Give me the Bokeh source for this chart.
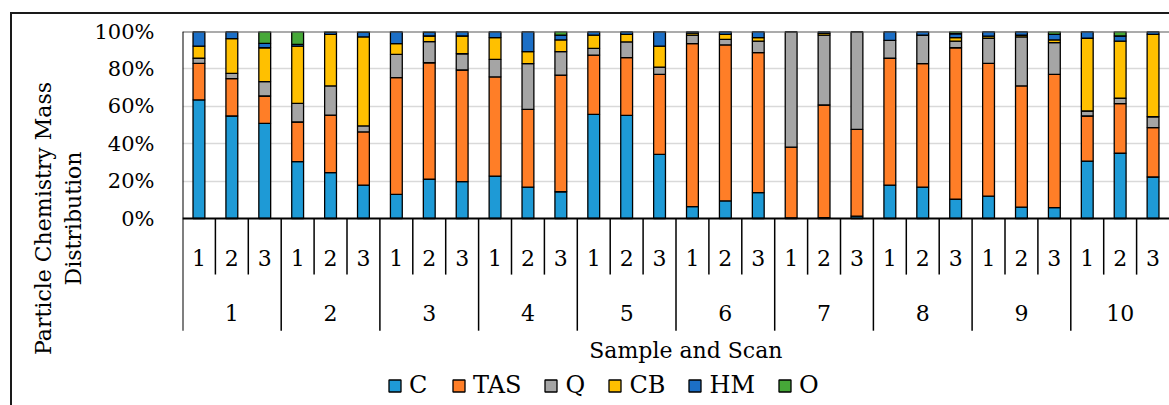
from bokeh.plotting import figure
from bokeh.models import (FactorRange, Range1d, FixedTicker, PrintfTickFormatter,
                          Legend, LegendItem, ColumnDataSource)
from bokeh.core.properties import value
from bokeh.embed import file_html
from bokeh.resources import INLINE

# ---------------- data ----------------
samples = ["1", "2", "3", "4", "5", "6", "7", "8", "9", "10"]
scans = ["1", "2", "3"]
series = ["C", "TAS", "Q", "CB", "HM", "O"]

C = [63.4, 54.8, 50.9, 30.4, 24.5, 17.9, 12.9, 21.0, 19.7, 22.7, 16.8, 14.3, 55.7, 55.2, 34.3,
     6.3, 9.4, 13.8, 0.3, 0.5, 1.3, 17.9, 16.8, 10.3, 12.0, 6.1, 5.8, 30.7, 34.9, 22.2]
TAS = [19.6, 20.0, 14.6, 21.2, 30.8, 28.4, 62.4, 62.3, 59.7, 53.0, 41.6, 62.4, 31.7, 30.8, 42.8,
       87.2, 83.4, 74.9, 37.9, 60.2, 46.4, 67.8, 66.0, 81.0, 71.0, 64.8, 71.3, 24.1, 26.5, 26.4]
Q = [2.7, 2.8, 7.7, 10.0, 15.6, 3.2, 12.5, 11.3, 8.7, 9.4, 24.4, 12.5, 3.6, 8.4, 3.9,
     4.6, 3.0, 6.2, 61.8, 37.4, 52.3, 9.6, 15.3, 3.6, 13.4, 26.2, 16.9, 2.7, 2.9, 5.8]
CB = [6.5, 18.6, 18.1, 30.6, 27.6, 47.6, 5.7, 3.0, 9.5, 11.6, 6.4, 6.3, 7.1, 4.1, 11.2,
      1.0, 2.7, 1.8, 0.0, 0.9, 0.0, 0.0, 0.0, 1.8, 1.1, 0.9, 1.5, 38.9, 30.6, 44.1]
HM = [7.8, 3.8, 2.4, 0.9, 1.0, 2.4, 6.5, 1.9, 2.4, 3.3, 10.8, 2.6, 1.9, 1.5, 7.8,
      0.9, 1.5, 3.3, 0.0, 1.0, 0.0, 4.7, 1.9, 2.1, 2.5, 2.0, 3.0, 3.6, 2.7, 1.5]
O = [0.0, 0.0, 6.3, 6.9, 0.5, 0.5, 0.0, 0.5, 0.0, 0.0, 0.0, 1.9, 0.0, 0.0, 0.0,
     0.0, 0.0, 0.0, 0.0, 0.0, 0.0, 0.0, 0.0, 1.2, 0.0, 0.0, 1.5, 0.0, 2.4, 0.0]

y_ticks = [0, 20, 40, 60, 80, 100]
colors = ["#1E9AD6", "#FF7E27", "#A5A5A5", "#FFC000", "#1C6FC6", "#46A838"]

FONT = "DejaVu Serif"

# ---------------- figure ----------------
factors = [(s, c) for s in samples for c in scans]
x_range = FactorRange(factors=factors, factor_padding=0, subgroup_padding=0,
                      group_padding=0, range_padding=0)

p = figure(x_range=x_range, y_range=Range1d(-100, 100), width=1169, height=405,
           output_backend="svg", toolbar_location=None, x_axis_location=None,
           min_border_left=182, min_border_right=0, min_border_top=31, min_border_bottom=0)
p.outline_line_color = None
p.background_fill_color = "white"
p.border_fill_color = None
# outer chart border (left and top edges), drawn behind the transparent canvas border
p.styles = {"background": ("linear-gradient(#1a1a1a, #1a1a1a) 10px 12px / 2px 400px no-repeat, "
                           "linear-gradient(#1a1a1a, #1a1a1a) 10px 12px / 1200px 2px no-repeat, "
                           "#ffffff")}

# y axis
ax = p.yaxis[0]
ax.ticker = FixedTicker(ticks=y_ticks)
ax.formatter = PrintfTickFormatter(format="%d%%")
ax.axis_line_color = None
ax.major_tick_line_color = None
ax.minor_tick_line_color = None
ax.major_tick_out = 0
ax.major_tick_in = 0
ax.major_label_standoff = 28
ax.major_label_text_font = FONT
ax.major_label_text_font_size = "21px"
ax.major_label_text_color = "black"
ax.axis_label = "Particle Chemistry Mass\nDistribution"
ax.axis_label_text_font = FONT
ax.axis_label_text_font_size = "22px"
ax.axis_label_text_font_style = "normal"
ax.axis_label_text_color = "black"
ax.axis_label_standoff = 5

p.xgrid.visible = False
p.ygrid.ticker = FixedTicker(ticks=y_ticks[1:-1])
p.ygrid.grid_line_color = "#d9d9d9"
p.ygrid.grid_line_width = 1.5

# bars
src = ColumnDataSource(dict(x=factors, C=C, TAS=TAS, Q=Q, CB=CB, HM=HM, O=O))
rs = p.vbar_stack(series, x="x", width=0.36, source=src, fill_color=colors,
                  line_color="black", line_width=1.3)

# table / frame lines (synthetic coordinates: one unit per factor)
n = len(factors)
top_y, axis_y = y_ticks[-1], y_ticks[0]
scan_bottom, group_bottom = -30, -60
p.segment(x0=[0], y0=[top_y], x1=[n], y1=[top_y], line_color="#595959", line_width=2)
scan_sep = [i for i in range(1, n) if i % len(scans) != 0]
p.segment(x0=scan_sep, y0=[axis_y] * len(scan_sep), x1=scan_sep, y1=[scan_bottom] * len(scan_sep),
          line_color="black", line_width=1.5)
group_sep = [i for i in range(len(scans), n, len(scans))]
p.segment(x0=group_sep, y0=[axis_y] * len(group_sep), x1=group_sep, y1=[group_bottom] * len(group_sep),
          line_color="black", line_width=1.5)
p.segment(x0=[0], y0=[top_y], x1=[0], y1=[group_bottom], line_color="black", line_width=2)
p.segment(x0=[0], y0=[axis_y], x1=[n], y1=[axis_y], line_color="black", line_width=2)

# category labels
p.text(x=factors, y=[-20.9] * n, text=[c for s in samples for c in scans],
       text_font=value(FONT), text_font_size="22px", text_align="center",
       text_baseline="middle", text_color="black")
group_x = [(s, scans[len(scans) // 2]) for s in samples]
p.text(x=group_x, y=[-50.8] * len(samples), text=samples,
       text_font=value(FONT), text_font_size="22px", text_align="center",
       text_baseline="middle", text_color="black")
p.text(x=[15.3], y=[-70.6], text=["Sample and Scan"],
       text_font=value(FONT), text_font_size="22px", text_align="center",
       text_baseline="middle", text_color="black")

legend = Legend(items=[LegendItem(label=s, renderers=[r]) for s, r in zip(series, rs)],
                orientation="horizontal", location=(205, 6),
                glyph_width=15, glyph_height=15, label_standoff=7, spacing=22,
                padding=0, margin=0, border_line_color=None, background_fill_alpha=0,
                label_text_font=FONT, label_text_font_size="24px", label_text_color="black")
p.add_layout(legend, "center")

open("out.html", "w").write(file_html(p, INLINE))
